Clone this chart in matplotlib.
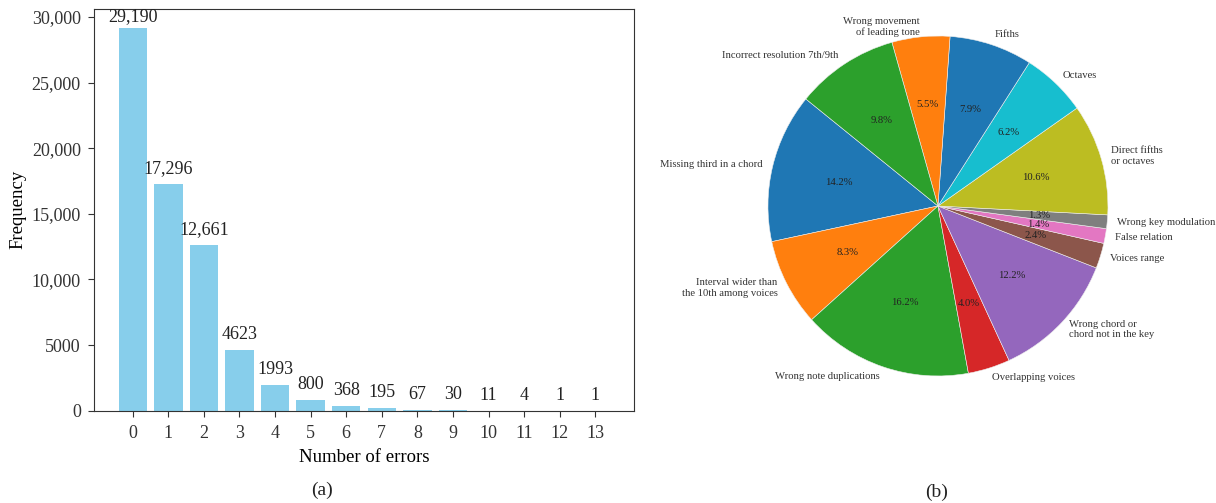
import matplotlib
matplotlib.use("Agg")
import matplotlib.pyplot as plt
from matplotlib.ticker import FixedLocator, FixedFormatter

plt.rcParams['font.family'] = ['Liberation Serif', 'DejaVu Serif']
plt.rcParams['text.color'] = '#222222'
plt.rcParams['axes.edgecolor'] = '#333333'
plt.rcParams['xtick.color'] = '#333333'
plt.rcParams['ytick.color'] = '#333333'

# (a) number of errors per exercise
n_errors = list(range(14))
frequency = [29190, 17296, 12661, 4623, 1993, 800, 368, 195, 67, 30, 11, 4, 1, 1]
freq_labels = ["29,190", "17,296", "12,661", "4623", "1993", "800", "368",
               "195", "67", "30", "11", "4", "1", "1"]
y_ticks = [0, 5000, 10000, 15000, 20000, 25000, 30000]
y_tick_labels = ["0", "5000", "10,000", "15,000", "20,000", "25,000", "30,000"]

# (b) error types
error_types = ["Missing third in a chord", "Interval wider than\nthe 10th among voices",
               "Wrong note duplications", "Overlapping voices",
               "Wrong chord or\nchord not in the key", "Voices range", "False relation",
               "Wrong key modulation", "Direct fifths\nor octaves", "Octaves", "Fifths",
               "Wrong movement\nof leading tone", "Incorrect resolution 7th/9th"]
error_share = [14.2, 8.3, 16.2, 4.0, 12.2, 2.4, 1.4, 1.3, 10.6, 6.2, 7.9, 5.5, 9.8]

fig = plt.figure(figsize=(12.16, 5.03), dpi=100)

# bar chart
ax1 = fig.add_axes([0.0773, 0.1835, 0.4441, 0.7996])
ax1.bar(n_errors, frequency, width=0.8, color='#87CEEB')
for x, v, s in zip(n_errors, frequency, freq_labels):
    # the tallest label is pushed down so it stays inside the frame
    ax1.annotate(s, (x, min(v, 28850)), xytext=(0, 5), textcoords='offset points',
                 ha='center', va='bottom', fontsize=13)
ax1.set_xticks(n_errors)
ax1.set_xticklabels([str(n) for n in n_errors], fontsize=13)
ax1.yaxis.set_major_locator(FixedLocator(y_ticks))
ax1.yaxis.set_major_formatter(FixedFormatter(y_tick_labels))
ax1.tick_params(axis='y', labelsize=13, length=4.5, pad=5)
ax1.tick_params(axis='x', length=4.5, pad=6)
ax1.set_xlabel("Number of errors", fontsize=13.5, labelpad=5)
ax1.set_ylabel("Frequency", fontsize=13.5)

# pie chart
ax2 = fig.add_axes([0.5966, 0.168, 0.3495, 0.845])
wedges, texts, autotexts = ax2.pie(error_share, labels=error_types, autopct='%1.1f%%',
                                   startangle=141, labeldistance=1.06,
                                   wedgeprops={'edgecolor': '#eeeeee', 'linewidth': 0.4},
                                   textprops={'fontsize': 7.7})
for t in texts:
    t.set_color('#333333')
ax2.set_aspect('equal')

fig.text(0.265, 0.026, "(a)", ha='center', va='center', fontsize=14)
fig.text(0.770, 0.022, "(b)", ha='center', va='center', fontsize=14)

fig.savefig("out.png", dpi=100)
